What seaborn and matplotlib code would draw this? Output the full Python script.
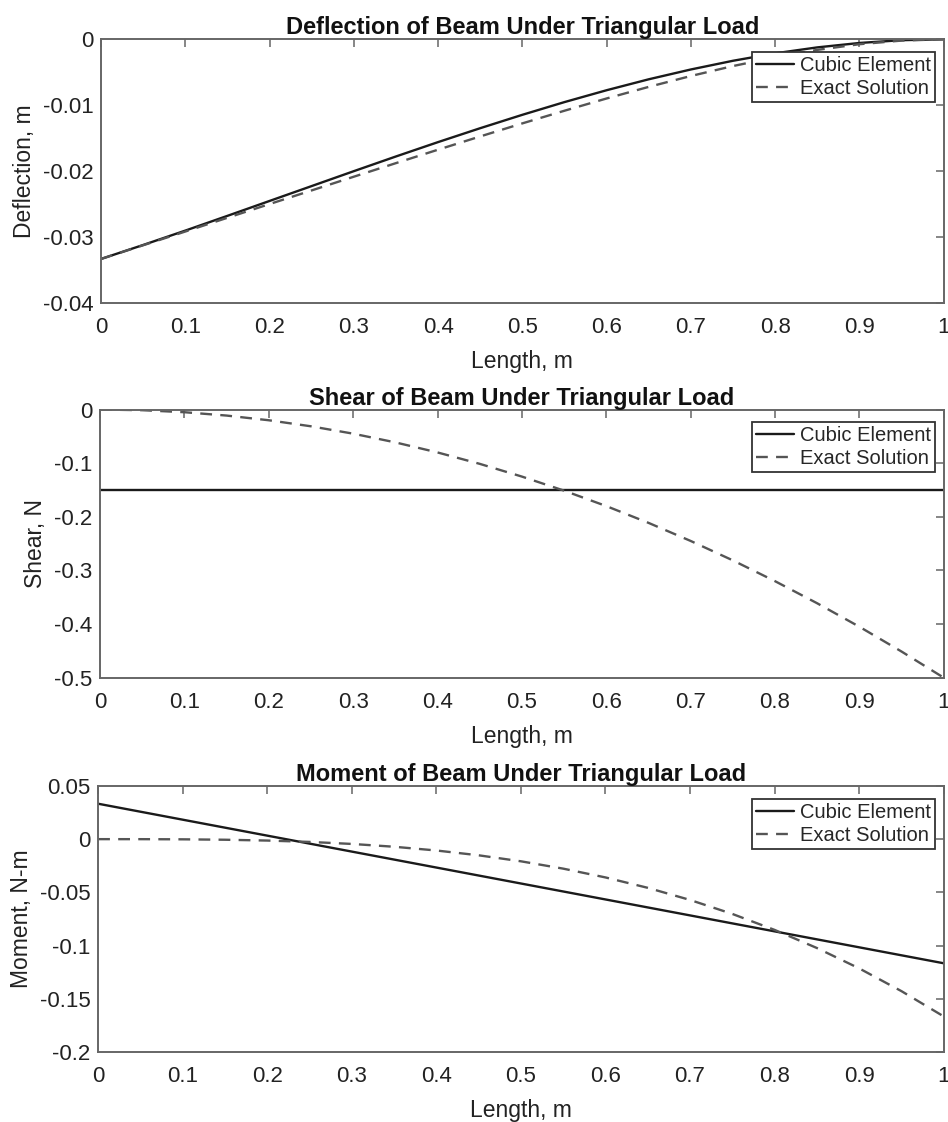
import seaborn as sns
import matplotlib.pyplot as plt
import numpy as np
import pandas as pd
from matplotlib.ticker import FuncFormatter

# values
x = [0, 0.05, 0.1, 0.15, 0.2, 0.25, 0.3, 0.35, 0.4, 0.45, 0.5,
     0.55, 0.6, 0.65, 0.7, 0.75, 0.8, 0.85, 0.9, 0.95, 1.0]

defl_cubic = [-0.03333, -0.03121, -0.02903, -0.02679, -0.02453, -0.02227, -0.02001,
              -0.01778, -0.01560, -0.01349, -0.01146, -0.00953, -0.00773, -0.00607,
              -0.00458, -0.00326, -0.00213, -0.00123, -0.00056, -0.00014, 0.0]
defl_exact = [-0.03333, -0.03125, -0.02917, -0.02708, -0.02500, -0.02293, -0.02085,
              -0.01879, -0.01675, -0.01474, -0.01276, -0.01084, -0.00898, -0.00722,
              -0.00557, -0.00406, -0.00273, -0.00161, -0.00075, -0.00020, 0.0]

shear_cubic = [-0.15] * len(x)
shear_exact = [0, -0.00125, -0.005, -0.01125, -0.02, -0.03125, -0.045, -0.06125,
               -0.08, -0.10125, -0.125, -0.15125, -0.18, -0.21125, -0.245, -0.28125,
               -0.32, -0.36125, -0.405, -0.45125, -0.5]

mom_cubic = [0.0333, 0.0258, 0.0183, 0.0108, 0.0033, -0.0042, -0.0117, -0.0192,
             -0.0267, -0.0342, -0.0417, -0.0492, -0.0567, -0.0642, -0.0717, -0.0792,
             -0.0867, -0.0942, -0.1017, -0.1092, -0.1167]
mom_exact = [0, -0.00002, -0.00017, -0.00056, -0.00133, -0.00260, -0.0045, -0.00715,
             -0.01067, -0.01519, -0.02083, -0.02773, -0.036, -0.04577, -0.05717,
             -0.07031, -0.08533, -0.10235, -0.1215, -0.1429, -0.16667]

titles = ["Deflection of Beam Under Triangular Load",
          "Shear of Beam Under Triangular Load",
          "Moment of Beam Under Triangular Load"]
ylabels = ["Deflection, m", "Shear, N", "Moment, N-m"]
ylims = [(-0.04, 0), (-0.5, 0), (-0.2, 0.05)]
yticks = [[-0.04, -0.03, -0.02, -0.01, 0],
          [-0.5, -0.4, -0.3, -0.2, -0.1, 0],
          [-0.2, -0.15, -0.1, -0.05, 0, 0.05]]
xticks = [0, 0.1, 0.2, 0.3, 0.4, 0.5, 0.6, 0.7, 0.8, 0.9, 1]

sns.set_style("white")
plt.rcParams['font.family'] = ['Liberation Sans', 'DejaVu Sans']
plt.rcParams['axes.unicode_minus'] = False

fig = plt.figure(figsize=(9.48, 11.22), dpi=100)
rects = [[0.1065, 0.730, 0.889, 0.235],
         [0.1055, 0.396, 0.890, 0.239],
         [0.1035, 0.0625, 0.892, 0.237]]

series = [(defl_cubic, defl_exact), (shear_cubic, shear_exact), (mom_cubic, mom_exact)]
fmt = FuncFormatter(lambda v, p: "%g" % round(v, 4))

for i, r in enumerate(rects):
    ax = fig.add_axes(r)
    cubic, exact = series[i]
    df = pd.DataFrame({"x": x, "cubic": cubic, "exact": exact})
    sns.lineplot(data=df, x="x", y="cubic", ax=ax, color="#1a1a1a", lw=1.7,
                 label="Cubic Element")
    sns.lineplot(data=df, x="x", y="exact", ax=ax, color="#555555", lw=1.7,
                 linestyle=(0, (5, 3.5)), label="Exact Solution")
    ax.set_xlim(0, 1)
    ax.set_ylim(*ylims[i])
    ax.set_xticks(xticks)
    ax.set_yticks(yticks[i])
    ax.xaxis.set_major_formatter(fmt)
    ax.yaxis.set_major_formatter(fmt)
    ax.tick_params(direction="in", length=6, width=1.1, colors="#666666",
                   labelcolor="#222222", labelsize=16, top=True, right=True)
    ax.tick_params(axis="x", pad=10)
    ax.tick_params(axis="y", pad=5.5)
    for s in ax.spines.values():
        s.set_color("#666666")
        s.set_linewidth(1.4)
    ax.set_title(titles[i], fontsize=17, fontweight="bold", pad=3.5, color="#111111")
    ax.set_xlabel("Length, m", fontsize=16.5, color="#222222", labelpad=9)
    ax.set_ylabel(ylabels[i], fontsize=16.5, color="#222222", labelpad=5)
    leg = ax.legend(loc="upper right", bbox_to_anchor=(0.99, 0.952), borderaxespad=0,
                    fontsize=14.5, frameon=True, fancybox=False,
                    edgecolor="#333333", framealpha=1, borderpad=0.2,
                    handlelength=1.9, handletextpad=0.3, labelspacing=0.2)
    leg.get_frame().set_linewidth(1.3)

fig.savefig("out.png", dpi=100)
